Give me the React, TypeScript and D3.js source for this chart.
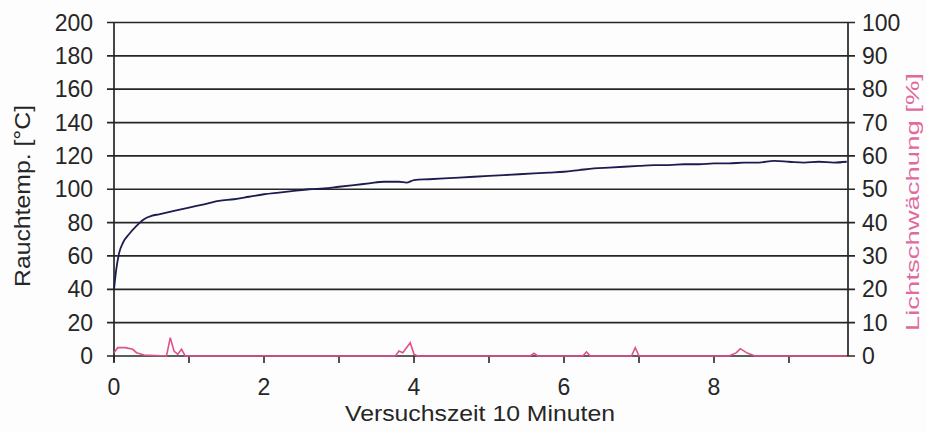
import React, { useEffect, useRef } from "react";
import * as d3 from "d3";

const tempTime = [0, 0.03, 0.07, 0.12, 0.2, 0.3, 0.4, 0.5, 0.6, 0.8, 1.0, 1.2, 1.4, 1.6, 1.8, 2.0, 2.2, 2.4, 2.6, 2.8, 3.0, 3.2, 3.4, 3.6, 3.8, 3.9, 4.0, 4.2, 4.4, 4.6, 4.8, 5.0, 5.2, 5.4, 5.6, 5.8, 6.0, 6.2, 6.4, 6.6, 6.8, 7.0, 7.2, 7.4, 7.6, 7.8, 8.0, 8.2, 8.4, 8.6, 8.8, 9.0, 9.2, 9.4, 9.6, 9.77];
const tempValues = [40, 52, 62, 68, 73, 78, 82, 84, 85, 87, 89, 91, 93, 94, 95.5, 97, 98, 99, 100, 100.5, 101.5, 102.5, 103.5, 104.5, 104.5, 104, 105.5, 106, 106.5, 107, 107.5, 108, 108.5, 109, 109.5, 110, 110.5, 111.5, 112.5, 113, 113.5, 114, 114.5, 114.5, 115, 115, 115.5, 115.5, 116, 116, 117, 116.5, 116, 116.5, 116, 116.5];

const smokeTime = [0, 0.05, 0.15, 0.25, 0.3, 0.4, 0.7, 0.75, 0.8, 0.85, 0.9, 0.95, 3.75, 3.8, 3.85, 3.95, 4.0, 4.05, 5.55, 5.6, 5.65, 6.25, 6.3, 6.35, 6.9, 6.95, 7.0, 8.2, 8.3, 8.35, 8.45, 8.55, 9.77];
const smokeValues = [1, 2.5, 2.5, 2, 1, 0.3, 0, 5.5, 1.5, 0.5, 2, 0, 0, 1.5, 1, 4, 0.5, 0, 0, 0.8, 0, 0, 1.2, 0, 0, 2.5, 0, 0, 1, 2.2, 0.8, 0, 0];

const leftTicks = [0, 20, 40, 60, 80, 100, 120, 140, 160, 180, 200];
const rightTicks = [0, 10, 20, 30, 40, 50, 60, 70, 80, 90, 100];
const xMajorTicks = [0, 2, 4, 6, 8];
const xMinorTicks = [1, 3, 5, 7, 9];

const xLabel = "Versuchszeit 10 Minuten";
const yLeftLabel = "Rauchtemp. [°C]";
const yRightLabel = "Lichtschwächung [%]";

export default function App() {
  const ref = useRef<SVGSVGElement>(null);
  useEffect(() => {
    const svg = d3.select(ref.current);
    svg.selectAll("*").remove();
    const L = 114, R = 848, T = 22.5, B = 356;
    const x = d3.scaleLinear().domain([0, (R - L) / 75]).range([L, R]);
    const yL = d3.scaleLinear().domain([0, 200]).range([B, T]);
    const yR = d3.scaleLinear().domain([0, 100]).range([B, T]);
    const font = "'Liberation Sans', Arial, sans-serif";
    const ink = "#262626";

    svg.append("rect").attr("width", 926).attr("height", 432).attr("fill", "#fdfdfd");

    // gridlines
    svg.append("g").selectAll("line").data(leftTicks).join("line")
      .attr("x1", L - 7).attr("x2", R + 7)
      .attr("y1", (d) => yL(d)).attr("y2", (d) => yL(d))
      .attr("stroke", ink).attr("stroke-width", 1.7);

    // axes lines
    svg.append("line").attr("x1", L).attr("x2", L).attr("y1", T).attr("y2", B + 6)
      .attr("stroke", ink).attr("stroke-width", 1.7);
    svg.append("line").attr("x1", R).attr("x2", R).attr("y1", T).attr("y2", B)
      .attr("stroke", ink).attr("stroke-width", 1.7);

    // x ticks
    svg.append("g").selectAll("line").data([...xMajorTicks, ...xMinorTicks]).join("line")
      .attr("x1", (d) => x(d)).attr("x2", (d) => x(d))
      .attr("y1", B).attr("y2", B + 7)
      .attr("stroke", ink).attr("stroke-width", 1.6);

    // left tick labels
    svg.append("g").selectAll("text").data(leftTicks).join("text")
      .attr("x", 93).attr("y", (d) => yL(d) + 8)
      .attr("text-anchor", "end").attr("font-family", font).attr("font-size", 23)
      .attr("fill", ink).text((d) => String(d));

    // right tick labels
    svg.append("g").selectAll("text").data(rightTicks).join("text")
      .attr("x", 862).attr("y", (d) => yR(d) + 8)
      .attr("text-anchor", "start").attr("font-family", font).attr("font-size", 23)
      .attr("fill", ink).text((d) => String(d));

    // x tick labels
    svg.append("g").selectAll("text").data(xMajorTicks).join("text")
      .attr("x", (d) => x(d)).attr("y", 395)
      .attr("text-anchor", "middle").attr("font-family", font).attr("font-size", 23)
      .attr("fill", ink).text((d) => String(d));

    // axis titles
    svg.append("text").attr("x", 480).attr("y", 421).attr("text-anchor", "middle")
      .attr("font-family", font).attr("font-size", 22).attr("fill", ink)
      .attr("textLength", 270).attr("lengthAdjust", "spacingAndGlyphs").text(xLabel);
    svg.append("text").attr("transform", "translate(30,196) rotate(-90)").attr("text-anchor", "middle")
      .attr("font-family", font).attr("font-size", 22).attr("fill", ink)
      .attr("textLength", 182).attr("lengthAdjust", "spacingAndGlyphs").text(yLeftLabel);
    svg.append("text").attr("transform", "translate(919,202) rotate(-90)").attr("text-anchor", "middle")
      .attr("font-family", font).attr("font-size", 19).attr("fill", "#e06a9e")
      .attr("textLength", 258).attr("lengthAdjust", "spacingAndGlyphs").text(yRightLabel);

    // smoke line
    const smokeLine = d3.line<number>()
      .x((_, i) => x(smokeTime[i])).y((d) => yR(d));
    svg.append("path").datum(smokeValues).attr("d", smokeLine)
      .attr("fill", "none").attr("stroke", "#e0508a").attr("stroke-width", 1.6);

    // temperature line
    const tempLine = d3.line<number>()
      .x((_, i) => x(tempTime[i])).y((d) => yL(d)).curve(d3.curveMonotoneX);
    svg.append("path").datum(tempValues).attr("d", tempLine)
      .attr("fill", "none").attr("stroke", "#1c1c50").attr("stroke-width", 1.8);
  }, []);
  return (
    <svg ref={ref} width={926} height={432}
      style={{ position: "absolute", left: 0, top: 0, display: "block" }} />
  );
}
